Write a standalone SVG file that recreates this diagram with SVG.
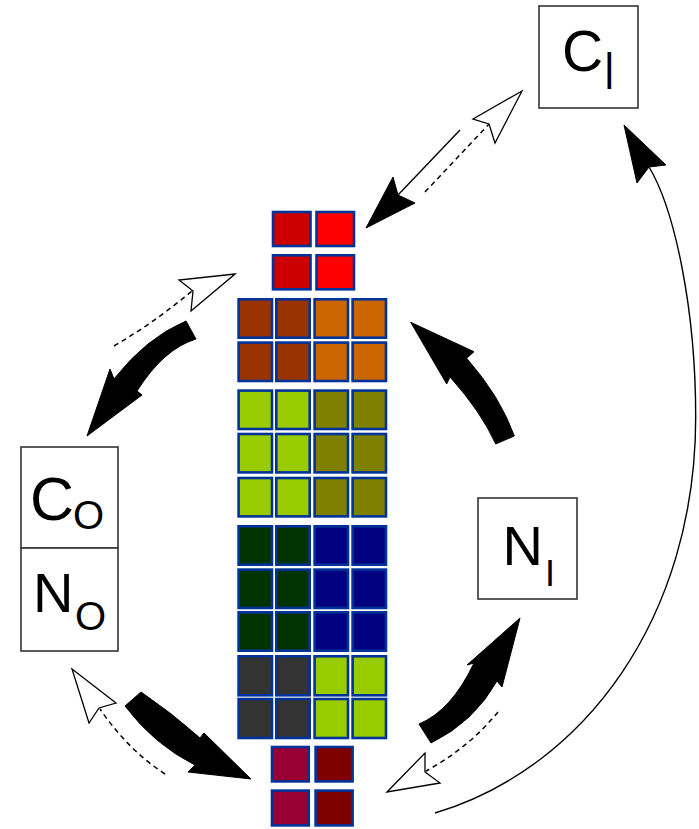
<svg xmlns="http://www.w3.org/2000/svg" width="699" height="829" viewBox="0 0 699 829">
<style>
.box{fill:#fff;stroke:#333;stroke-width:1.6}
.lbl{font-family:"Liberation Sans",Arial,sans-serif;fill:#000}
.cell{stroke:#003399;stroke-width:2.6}
.thick{fill:#000;stroke:#000;stroke-width:1}
.thin{fill:none;stroke:#000;stroke-width:1.4}
.dash{fill:none;stroke:#000;stroke-width:1.5;stroke-dasharray:5 4}
.hollow{fill:#fff;stroke:#000;stroke-width:1.3;stroke-linejoin:miter}
.solidhead{fill:#000;stroke:#000;stroke-width:1}
</style>
<rect width="699" height="829" fill="#fff"/>

<g id="connectors">
  <path class="thick" d="M186,321 Q146,338 114,379 L110,369 L87,436 L142,395 L137,391 Q163.5,349 196,339 Z"/>
  <path class="thick" d="M495.7,444 Q481,411.5 450,377 L446.7,384 L410.7,322.3 L474,351.7 L466.7,358.3 Q500.5,397 514.3,436 Z"/>
  <path class="thick" d="M141,692 Q172,713 200,738 L204,733 L251,779 L188,772 L195,765 Q154,744.5 125,706 Z"/>
  <path class="thick" d="M419,724 Q451.5,710.5 474,663 L467,665 L520,618 L502,687 L497,681 Q474,722 431,743 Z"/>
  <path class="thin" d="M460,130 L398,195"/>
  <path class="solidhead" d="M366,228 L393,177 L398,195 L415,203 Z"/>
  <path class="dash" d="M425,192 L490,123"/>
  <path class="hollow" d="M522,91 L473,119 L489,124 L495,143 Z"/>
  <path class="dash" d="M114,346 Q155,322 192,291"/>
  <path class="hollow" d="M235,274 L179,280 L193,291 L191,311 Z"/>
  <path class="dash" d="M165,774 Q128,750 100,709"/>
  <path class="hollow" d="M72,669 L116,703 L99,708 L89,723 Z"/>
  <path class="dash" d="M498,712 Q468.5,748 426,771"/>
  <path class="hollow" d="M387,792 L425,753 L425,772 L440,783 Z"/>
  <path class="thin" d="M435,813 C585,768 695.7,617 695.7,417 C695.7,310 675,210 649,167"/>
  <path class="solidhead" d="M624,125 L637,183 L649,167 L666,165 Z"/>
</g>

<g id="cells">
  <g id="top-pair">
    <rect class="cell" x="273" y="212" width="37.5" height="34" fill="#cc0000"/>
    <rect class="cell" x="316.5" y="212" width="37.5" height="34" fill="#ff0000"/>
    <rect class="cell" x="273" y="255.3" width="37.5" height="34" fill="#cc0000"/>
    <rect class="cell" x="316.5" y="255.3" width="37.5" height="34" fill="#ff0000"/>
  </g>
  <g id="brown-rows">
    <rect class="cell" x="238.6" y="299.3" width="33.4" height="38.4" fill="#993300"/>
    <rect class="cell" x="276.3" y="299.3" width="33.4" height="38.4" fill="#993300"/>
    <rect class="cell" x="314.6" y="299.3" width="33.4" height="38.4" fill="#cc6600"/>
    <rect class="cell" x="352.6" y="299.3" width="33.4" height="38.4" fill="#cc6600"/>
    <rect class="cell" x="238.6" y="342.6" width="33.4" height="38.4" fill="#993300"/>
    <rect class="cell" x="276.3" y="342.6" width="33.4" height="38.4" fill="#993300"/>
    <rect class="cell" x="314.6" y="342.6" width="33.4" height="38.4" fill="#cc6600"/>
    <rect class="cell" x="352.6" y="342.6" width="33.4" height="38.4" fill="#cc6600"/>
  </g>
  <g id="green-rows">
    <rect class="cell" x="238.6" y="390.6" width="33.4" height="38.4" fill="#99cc00"/>
    <rect class="cell" x="276.3" y="390.6" width="33.4" height="38.4" fill="#99cc00"/>
    <rect class="cell" x="314.6" y="390.6" width="33.4" height="38.4" fill="#808000"/>
    <rect class="cell" x="352.6" y="390.6" width="33.4" height="38.4" fill="#808000"/>
    <rect class="cell" x="238.6" y="434" width="33.4" height="38.4" fill="#99cc00"/>
    <rect class="cell" x="276.3" y="434" width="33.4" height="38.4" fill="#99cc00"/>
    <rect class="cell" x="314.6" y="434" width="33.4" height="38.4" fill="#808000"/>
    <rect class="cell" x="352.6" y="434" width="33.4" height="38.4" fill="#808000"/>
    <rect class="cell" x="238.6" y="478" width="33.4" height="38.4" fill="#99cc00"/>
    <rect class="cell" x="276.3" y="478" width="33.4" height="38.4" fill="#99cc00"/>
    <rect class="cell" x="314.6" y="478" width="33.4" height="38.4" fill="#808000"/>
    <rect class="cell" x="352.6" y="478" width="33.4" height="38.4" fill="#808000"/>
  </g>
  <g id="dark-rows">
    <rect class="cell" x="238.6" y="526.3" width="33.4" height="38.4" fill="#003300"/>
    <rect class="cell" x="276.3" y="526.3" width="33.4" height="38.4" fill="#003300"/>
    <rect class="cell" x="314.6" y="526.3" width="33.4" height="38.4" fill="#000080"/>
    <rect class="cell" x="352.6" y="526.3" width="33.4" height="38.4" fill="#000080"/>
    <rect class="cell" x="238.6" y="569.6" width="33.4" height="38.4" fill="#003300"/>
    <rect class="cell" x="276.3" y="569.6" width="33.4" height="38.4" fill="#003300"/>
    <rect class="cell" x="314.6" y="569.6" width="33.4" height="38.4" fill="#000080"/>
    <rect class="cell" x="352.6" y="569.6" width="33.4" height="38.4" fill="#000080"/>
    <rect class="cell" x="238.6" y="612.3" width="33.4" height="38.4" fill="#003300"/>
    <rect class="cell" x="276.3" y="612.3" width="33.4" height="38.4" fill="#003300"/>
    <rect class="cell" x="314.6" y="612.3" width="33.4" height="38.4" fill="#000080"/>
    <rect class="cell" x="352.6" y="612.3" width="33.4" height="38.4" fill="#000080"/>
  </g>
  <g id="gray-rows">
    <rect class="cell" x="238.6" y="656.3" width="33.4" height="39" fill="#333333"/>
    <rect class="cell" x="276.3" y="656.3" width="33.4" height="39" fill="#333333"/>
    <rect class="cell" x="314.6" y="656.3" width="33.4" height="39" fill="#99cc00"/>
    <rect class="cell" x="352.6" y="656.3" width="33.4" height="39" fill="#99cc00"/>
    <rect class="cell" x="238.6" y="699" width="33.4" height="39" fill="#333333"/>
    <rect class="cell" x="276.3" y="699" width="33.4" height="39" fill="#333333"/>
    <rect class="cell" x="314.6" y="699" width="33.4" height="39" fill="#99cc00"/>
    <rect class="cell" x="352.6" y="699" width="33.4" height="39" fill="#99cc00"/>
  </g>
  <g id="bottom-pair">
    <rect class="cell" x="272" y="747" width="36.8" height="34.4" fill="#990033"/>
    <rect class="cell" x="315.6" y="747" width="37" height="34.4" fill="#800000"/>
    <rect class="cell" x="272" y="790.6" width="36.8" height="34.8" fill="#990033"/>
    <rect class="cell" x="315.6" y="790.6" width="37" height="34.8" fill="#800000"/>
  </g>
</g>

<g id="node-CI">
  <rect class="box" x="539" y="6" width="99" height="102"/>
  <text class="lbl" x="562" y="71" font-size="57">C</text>
  <text class="lbl" font-size="38" transform="translate(604,89) scale(1,1.42)">I</text>
</g>
<g id="node-CO">
  <rect class="box" x="21" y="447" width="97" height="101"/>
  <text class="lbl" x="30" y="520" font-size="61">C</text>
  <text class="lbl" x="73" y="529" font-size="40">O</text>
</g>
<g id="node-NO">
  <rect class="box" x="21" y="548" width="97" height="103"/>
  <text class="lbl" x="33" y="611.5" font-size="56">N</text>
  <text class="lbl" x="75" y="629.5" font-size="40">O</text>
</g>
<g id="node-NI">
  <rect class="box" x="478" y="498" width="99" height="101"/>
  <text class="lbl" x="502.5" y="565" font-size="56">N</text>
  <text class="lbl" x="545" y="586" font-size="36">I</text>
</g>
</svg>
